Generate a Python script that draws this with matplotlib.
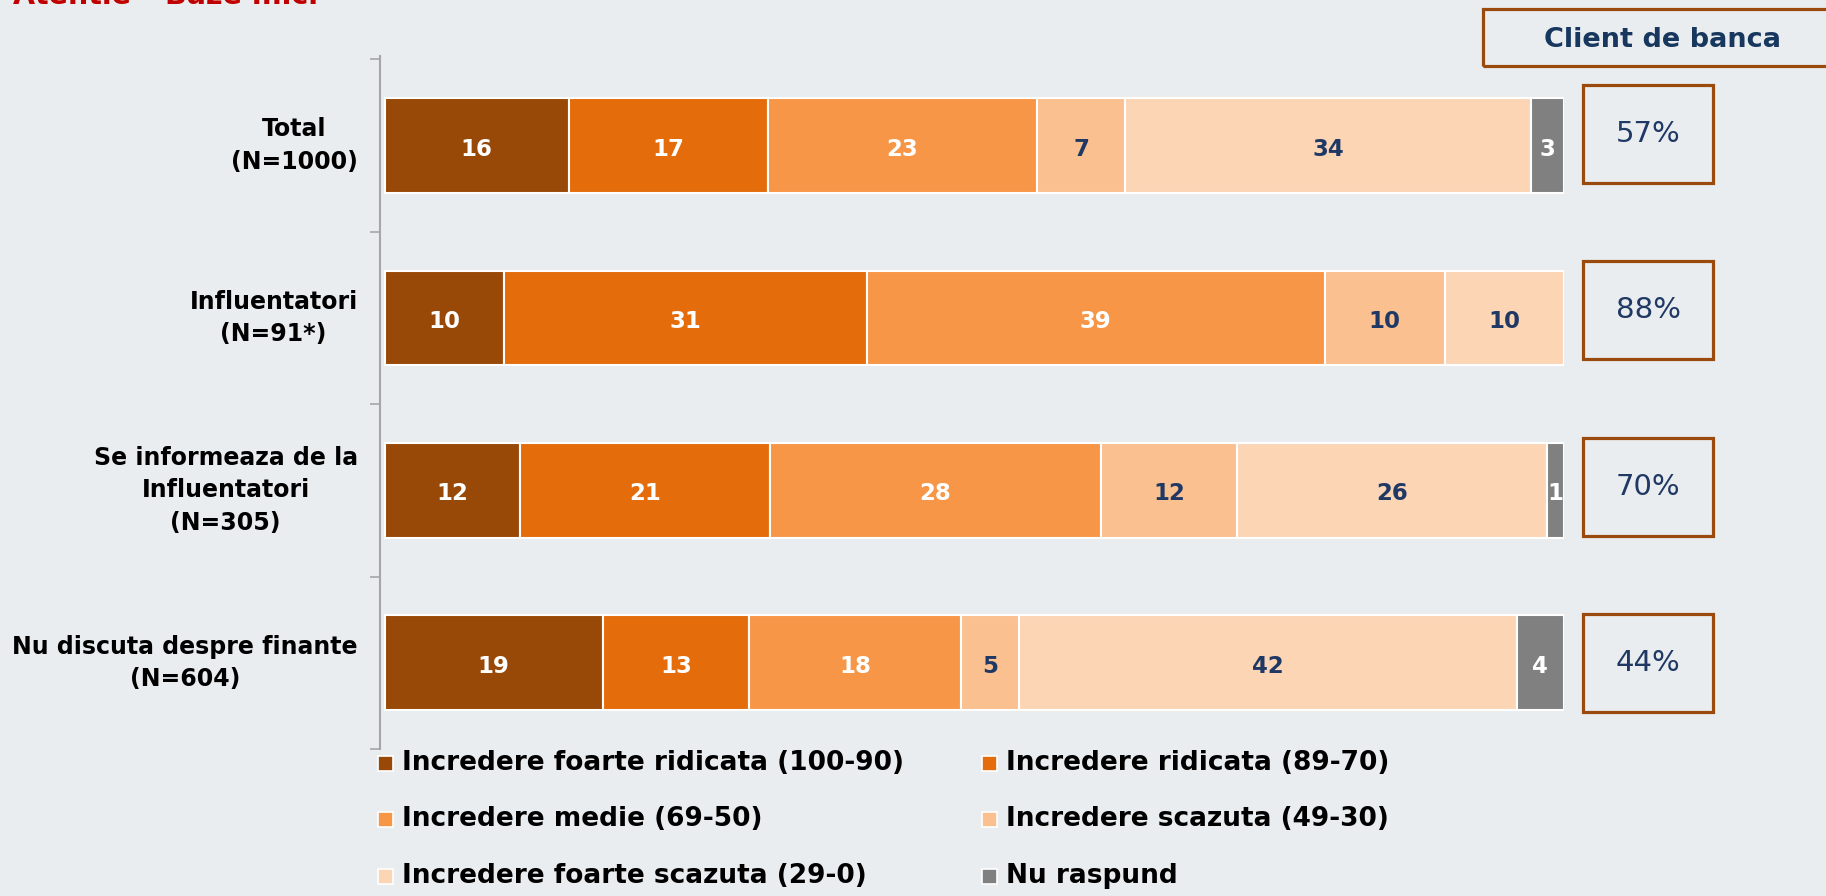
import matplotlib
matplotlib.use("Agg")
import matplotlib.pyplot as plt
from matplotlib.patches import Rectangle

plt.rcParams['font.family'] = ['DejaVu Sans']

categories = ["Total\n(N=1000)", "Influentatori\n(N=91*)",
              "Se informeaza de la\nInfluentatori\n(N=305)",
              "Nu discuta despre finante\n(N=604)"]
series_names = ["Incredere foarte ridicata (100-90)", "Incredere ridicata (89-70)",
                "Incredere medie (69-50)", "Incredere scazuta (49-30)",
                "Incredere foarte scazuta (29-0)", "Nu raspund"]
# displayed labels per series (rows = categories)
foarte_ridicata = [16, 10, 12, 19]
ridicata = [17, 31, 21, 13]
medie = [23, 39, 28, 18]
scazuta = [7, 10, 12, 5]
foarte_scazuta = [34, 10, 26, 42]
nu_raspund = [3, 0, 1, 4]
# segment widths (rounded values above are the labels)
w_foarte_ridicata = [15.6, 10.1, 11.5, 18.5]
w_ridicata = [16.9, 30.8, 21.2, 12.4]
w_medie = [22.8, 38.8, 28.0, 18.0]
w_scazuta = [7.5, 10.2, 11.6, 4.9]
w_foarte_scazuta = [34.4, 10.1, 26.3, 42.2]
w_nu_raspund = [2.8, 0.0, 1.4, 4.0]
client_banca = ["57%", "88%", "70%", "44%"]

labels_all = [foarte_ridicata, ridicata, medie, scazuta, foarte_scazuta, nu_raspund]
widths_all = [w_foarte_ridicata, w_ridicata, w_medie, w_scazuta, w_foarte_scazuta, w_nu_raspund]
colors = ["#984807", "#E46C0A", "#F79646", "#FAC090", "#FCD5B5", "#808080"]
text_colors = ["white", "white", "white", "#1F3864", "#1F3864", "white"]

BG = "#E9EDEF"
W, H = 1826, 896
fig = plt.figure(figsize=(W / 100, H / 100), dpi=100, facecolor=BG)

def fx(px):
    return px / W

def fy(py):
    return 1 - py / H

# main axes
ax_left, ax_right, ax_top, ax_bot = 380, 1564, 56, 749
ax = fig.add_axes([fx(ax_left), fy(ax_bot), fx(ax_right - ax_left), (ax_bot - ax_top) / H])
ax.set_facecolor(BG)
n = len(categories)
ypos = list(range(n))
left = [0.0] * n
for s in range(len(series_names)):
    ws = widths_all[s]
    ax.barh(ypos, ws, left=left, height=0.55, align="center", color=colors[s],
            edgecolor="white", linewidth=1.5)
    for i in range(n):
        if labels_all[s][i] > 0:
            ax.text(left[i] + ws[i] / 2, ypos[i] + 0.02, str(labels_all[s][i]),
                    ha="center", va="center", fontsize=16.5, fontweight="bold",
                    color=text_colors[s])
    left = [left[i] + ws[i] for i in range(n)]

ax.set_xlim(-0.4, 100)
ax.set_ylim(n - 0.5 - 0.02, -0.5 - 0.02)
ax.set_yticks(ypos)
ax.set_yticklabels(categories, fontsize=17, fontweight="bold", linespacing=1.45,
                   multialignment="center", va="center")
ax.tick_params(axis="y", which="major", length=0, pad=16)
ax.set_yticks([i - 0.5 for i in range(n + 1)], minor=True)
ax.tick_params(axis="y", which="minor", length=7, width=1.2, color="#A6A6A6", direction="out")
ax.set_xticks([])
for sp in ["top", "right", "bottom"]:
    ax.spines[sp].set_visible(False)
ax.spines["left"].set_color("#A6A6A6")
ax.spines["left"].set_linewidth(1.5)

# client de banca boxes
box_top, box_bot = 134, 663
ax2 = fig.add_axes([fx(1583), fy(box_bot), fx(130), (box_bot - box_top) / H])
ax2.set_xlim(0, 1)
ax2.set_ylim(n - 1, 0)
ax2.axis("off")
bh = 98 / ((box_bot - box_top) / (n - 1))
for i in range(n):
    ax2.add_patch(Rectangle((0.0, i - bh / 2), 1.0, bh, facecolor="none",
                            edgecolor="#9A4A0C", linewidth=2.3, clip_on=False))
    ax2.text(0.5, i, client_banca[i], ha="center", va="center", fontsize=21,
             color="#1F3864")

# header box
fig.patches.append(Rectangle((fx(1483), fy(66)), fx(400), (66 - 9) / H,
                             transform=fig.transFigure, facecolor="none",
                             edgecolor="#9A4A0C", linewidth=2.3))
fig.text(fx(1662), fy(40), "Client de banca", ha="center", va="center",
         fontsize=19.5, fontweight="bold", color="#17375E")

# warning title (clipped at the top edge, as in the source)
fig.text(fx(13), fy(4), "Atentie \u2013 Baze mici", ha="left", va="baseline",
         fontsize=20.5, fontweight="bold", color="#C00000")

# legend
cols_x = [378, 982]
rows_y = [763, 819, 876]
for k, name in enumerate(series_names):
    r, c = divmod(k, 2)
    x0 = cols_x[c]
    y0 = rows_y[r]
    fig.patches.append(Rectangle((fx(x0), fy(y0 + 8)), fx(15), 15 / H,
                                 transform=fig.transFigure, facecolor=colors[k],
                                 edgecolor="white", linewidth=1.2))
    fig.text(fx(x0 + 24), fy(y0), name, ha="left", va="center", fontsize=19,
             fontweight="bold", color="black")

fig.savefig("out.png", dpi=100, facecolor=BG)
